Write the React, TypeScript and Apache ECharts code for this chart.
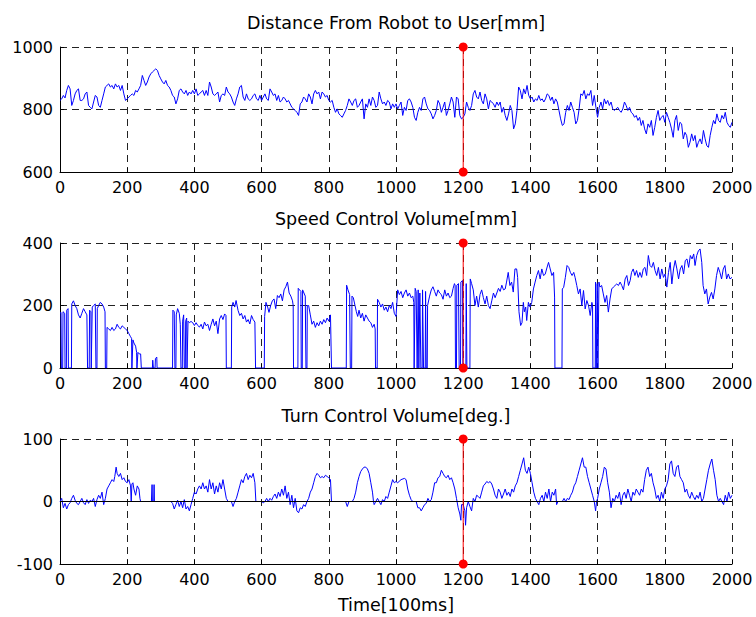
import React, { useEffect, useRef } from "react";
import * as echarts from "echarts";

// ---------- data ----------
const TIME_MIN = 0;
const TIME_MAX = 2000;
const TIME_STEP = 200;
const EVENT_TIME = 1200;

const panelTitles = [
  "Distance From Robot to User[mm]",
  "Speed Control Volume[mm]",
  "Turn Control Volume[deg.]",
];
const xAxisTitle = "Time[100ms]";

const yMins = [600, 0, -100];
const yMaxs = [1000, 400, 100];
const yIntervals = [200, 200, 100];

// distance sampled every 5 time units from 0 to 2000
const DIST_STEP = 5;
const distanceValues = [
  829, 834, 845, 837, 861, 877, 866, 813, 829, 850,
  861, 866, 829, 829, 834, 850, 856, 813, 807, 802,
  824, 845, 840, 813, 807, 829, 850, 872, 877, 882,
  872, 877, 866, 882, 872, 877, 861, 877, 850, 829,
  834, 840, 845, 850, 845, 861, 856, 866, 877, 909,
  893, 877, 888, 904, 914, 920, 925, 930, 925, 909,
  898, 888, 882, 893, 877, 872, 861, 845, 840, 818,
  834, 861, 866, 856, 850, 861, 845, 856, 850, 861,
  850, 866, 845, 850, 856, 861, 845, 861, 845, 888,
  872, 850, 845, 850, 856, 824, 845, 850, 845, 872,
  856, 850, 840, 824, 813, 834, 850, 872, 877, 840,
  829, 850, 834, 829, 834, 845, 850, 834, 829, 845,
  829, 840, 850, 834, 829, 866, 856, 845, 850, 829,
  845, 824, 829, 840, 834, 824, 829, 818, 807, 802,
  797, 791, 781, 818, 824, 840, 834, 824, 850, 840,
  818, 850, 861, 850, 856, 834, 856, 850, 840, 845,
  829, 824, 829, 807, 791, 802, 786, 781, 775, 786,
  797, 813, 834, 824, 813, 829, 834, 807, 813, 824,
  834, 770, 818, 807, 834, 813, 840, 829, 807, 813,
  856, 834, 818, 824, 813, 829, 824, 802, 818, 807,
  818, 802, 813, 824,
  781, 807, 797, 829, 834, 824, 807, 775, 765, 791,
  807, 797, 834, 840, 818, 802, 797, 786, 770, 781,
  797, 829, 818, 791, 807, 824, 781, 797, 818, 840,
  824, 775, 840, 834, 781, 770, 775, 786, 824, 807,
  797, 813, 850, 861, 840, 834, 856, 829, 818, 850,
  834, 802, 829, 824, 818, 807, 824, 813, 824, 791,
  807, 781, 765, 786, 813, 797, 738, 754, 797, 872,
  861, 834, 866, 850, 877, 845, 834, 840, 824, 834,
  829, 845, 829, 834, 824, 834, 850, 845, 829, 840,
  818, 834, 824, 797, 770, 749, 754, 791, 813, 797,
  824, 807, 791, 754, 765, 802, 850, 845, 861, 834,
  850, 845, 861, 813, 845, 807, 775, 807, 824, 802,
  834, 818, 829, 813, 824, 802, 797, 802, 807, 797,
  791, 802, 824, 813, 797, 807, 791, 786, 775, 781,
  765, 775, 749, 765, 738, 722, 754, 743, 765, 717,
  743, 775, 797, 765, 775, 781, 759, 791, 775, 759,
  738, 711, 765, 781, 733, 759, 754, 706, 727, 717,
  679, 695, 722, 700, 717, 679, 695, 706, 690, 733,
  706, 684, 679, 717, 743, 765, 754, 786, 765, 759,
  781, 770, 791, 759, 749, 743, 759,
];

// speed: [time, value]
const speedPoints: [number, number][] = [
  [0, 175], [3, 178], [4, 0], [8, 0], [9, 180], [14, 175], [15, 0], [19, 0], [20, 185], [24, 190],
  [25, 0], [34, 0], [35, 205], [40, 215], [45, 200], [50, 190], [55, 170], [60, 160], [65, 175], [70, 190],
  [75, 180], [80, 170], [82, 0], [87, 0], [88, 185], [92, 180], [93, 0], [95, 0], [96, 195], [100, 200],
  [105, 205], [107, 0], [110, 0], [111, 190], [115, 200], [120, 210], [125, 205], [130, 195], [134, 180], [135, 0],
  [139, 0], [140, 130], [145, 125], [150, 120], [155, 130], [160, 120], [165, 125], [170, 140], [175, 130], [180, 125],
  [185, 135], [190, 130], [195, 125], [200, 120], [205, 110], [210, 100], [213, 95], [214, 0], [216, 0], [217, 90],
  [220, 80], [225, 70], [228, 50], [229, 0], [231, 0], [232, 50], [236, 45], [240, 45], [242, 0], [275, 0],
  [276, 25], [278, 0], [283, 0], [284, 30], [288, 35], [289, 0], [335, 0], [336, 185], [340, 180], [342, 0],
  [345, 0], [346, 170], [350, 190], [355, 175], [358, 140], [360, 0], [364, 0], [365, 150], [368, 170], [370, 0],
  [373, 0], [374, 150], [377, 160], [378, 0], [380, 0], [381, 150], [385, 145], [390, 149], [395, 145], [400, 136],
  [405, 145], [410, 136], [415, 131], [420, 140], [425, 125], [430, 147], [435, 135], [440, 140], [445, 120], [450, 140],
  [455, 157], [460, 135], [465, 150], [470, 110], [475, 157], [480, 168], [485, 155], [490, 173], [494, 168], [495, 0],
  [510, 0], [511, 195], [515, 210], [520, 195], [524, 216], [530, 184], [535, 168], [540, 175], [545, 157], [550, 168],
  [555, 147], [560, 155], [565, 141], [570, 168], [575, 155], [580, 147], [582, 0], [608, 0], [609, 165], [613, 210],
  [618, 195], [622, 178], [627, 200], [632, 215], [637, 221], [642, 190], [647, 232], [652, 225], [657, 237], [662, 215],
  [667, 250], [672, 260], [677, 275], [682, 240], [687, 230], [692, 215], [694, 200], [695, 0], [708, 0], [709, 255],
  [713, 250], [717, 245], [718, 0], [721, 0], [722, 250], [726, 240], [730, 230], [732, 0], [735, 0], [736, 200],
  [740, 200], [745, 170], [750, 140], [755, 150], [760, 130], [765, 145], [770, 135], [775, 150], [780, 140], [785, 155],
  [790, 145], [795, 160], [800, 150], [805, 170], [808, 0], [852, 0], [853, 265], [857, 250], [862, 235], [864, 0],
  [868, 0], [869, 230], [873, 225], [878, 200], [882, 180], [886, 165], [890, 185], [895, 160], [900, 175], [905, 150],
  [910, 170], [915, 160], [920, 150], [925, 145], [930, 130], [935, 140], [938, 125], [939, 0], [944, 0], [945, 220],
  [950, 210], [955, 195], [960, 205], [965, 185], [970, 195], [975, 180], [980, 200], [985, 190], [990, 210], [995, 175],
  [1000, 165], [1005, 250], [1010, 235], [1015, 245], [1020, 225], [1025, 240], [1030, 250], [1035, 230], [1040, 240], [1045, 225],
  [1050, 230], [1053, 210], [1054, 0], [1056, 0], [1057, 255], [1060, 245], [1063, 0], [1065, 0], [1066, 250], [1068, 0],
  [1070, 0], [1071, 240], [1074, 0], [1078, 0], [1079, 250], [1082, 0], [1087, 0], [1088, 245], [1090, 0], [1093, 0],
  [1094, 200], [1100, 230], [1105, 250], [1110, 260], [1115, 245], [1120, 230], [1125, 250], [1130, 240], [1135, 235], [1140, 220],
  [1145, 250], [1150, 230], [1155, 240], [1160, 225], [1165, 230], [1170, 255], [1174, 270], [1176, 265], [1177, 0], [1180, 0],
  [1181, 265], [1186, 270], [1188, 0], [1192, 0], [1193, 275], [1198, 280], [1199, 0], [1208, 0], [1209, 270], [1211, 0],
  [1220, 0], [1221, 285], [1225, 270], [1230, 250], [1235, 200], [1240, 230], [1245, 195], [1250, 235], [1255, 250], [1260, 225],
  [1265, 205], [1270, 230], [1275, 200], [1280, 190], [1285, 215], [1290, 240], [1295, 225], [1300, 240], [1305, 255], [1310, 245],
  [1315, 265], [1320, 250], [1325, 253], [1329, 275], [1334, 306], [1339, 264], [1344, 275], [1349, 243], [1354, 317], [1359, 317],
  [1362, 290], [1366, 180], [1371, 136], [1375, 145], [1379, 210], [1382, 180], [1386, 195], [1389, 152], [1394, 210], [1399, 195],
  [1404, 210], [1409, 253], [1414, 275], [1419, 296], [1424, 312], [1429, 285], [1434, 317], [1439, 296], [1444, 300], [1449, 320],
  [1454, 338], [1459, 317], [1464, 296], [1469, 306], [1472, 227], [1473, 0], [1494, 0], [1495, 253], [1499, 258], [1504, 290],
  [1509, 328], [1514, 322], [1519, 306], [1524, 296], [1529, 306], [1533, 290], [1538, 264], [1543, 237], [1548, 253], [1553, 200],
  [1558, 248], [1563, 189], [1568, 216], [1573, 200], [1578, 168], [1583, 210], [1585, 200], [1586, 0], [1593, 0], [1594, 275],
  [1596, 0], [1598, 0], [1599, 270], [1601, 0], [1603, 0], [1604, 275], [1607, 259], [1612, 264], [1617, 237], [1622, 210],
  [1627, 232], [1632, 179], [1637, 221], [1642, 253], [1647, 259], [1652, 264], [1657, 269], [1662, 264], [1667, 275], [1672, 264],
  [1677, 250], [1682, 285], [1687, 296], [1692, 264], [1697, 280], [1701, 306], [1706, 317], [1711, 296], [1716, 312], [1721, 290],
  [1726, 306], [1731, 290], [1736, 317], [1741, 322], [1746, 296], [1751, 360], [1756, 328], [1761, 322], [1766, 338], [1771, 312],
  [1776, 296], [1781, 322], [1786, 285], [1791, 317], [1796, 290], [1801, 301], [1806, 259], [1811, 306], [1816, 338], [1821, 269],
  [1826, 317], [1831, 344], [1836, 317], [1841, 285], [1846, 317], [1851, 328], [1856, 301], [1861, 344], [1866, 349], [1871, 322],
  [1876, 360], [1881, 349], [1886, 365], [1890, 328], [1895, 360], [1900, 375], [1905, 381], [1910, 338], [1914, 264], [1919, 237],
  [1924, 253], [1929, 205], [1934, 227], [1939, 242], [1944, 221], [1949, 253], [1954, 296], [1959, 322], [1964, 306], [1969, 285],
  [1974, 317], [1979, 328], [1984, 285], [1989, 301], [1994, 285], [2000, 290],
];

// turn: [time, value]
const turnPoints: [number, number][] = [
  [0, 0], [5, 5], [10, -10], [15, -3], [20, -12], [25, -5], [30, -2], [35, 5], [40, 10], [45, 2],
  [50, -3], [55, -5], [60, 0], [65, 5], [70, -2], [75, -5], [80, 3], [85, -3], [90, 2], [95, 0],
  [100, 5], [105, -8], [110, 3], [115, 10], [120, 5], [125, 15], [130, -5], [135, 5], [140, 20], [145, 25],
  [150, 30], [155, 35], [160, 32], [163, 40], [167, 55], [170, 45], [175, 40], [180, 45], [185, 35], [190, 38],
  [195, 32], [200, 30], [205, 35], [210, 25], [212, 0], [214, 28], [217, 30], [220, 20], [225, 10], [230, 25],
  [235, 20], [238, 5], [240, 0], [272, 0], [274, 27], [275, 0], [279, 0], [280, 27], [281, 0], [330, 0],
  [335, -3], [340, -12], [345, -5], [350, 2], [355, -8], [360, 0], [365, -10], [370, 3], [375, -12], [380, -8],
  [385, -15], [390, -5], [395, 5], [400, 15], [405, 12], [410, 20], [415, 25], [420, 20], [425, 30], [430, 20],
  [435, 25], [440, 15], [445, 35], [450, 20], [455, 30], [460, 12], [465, 25], [470, 15], [475, 30], [480, 20],
  [485, 35], [490, 20], [495, 5], [500, 0], [510, 0], [515, -8], [520, 0], [525, 5], [530, 15], [535, 25],
  [540, 35], [545, 30], [550, 40], [555, 45], [560, 35], [565, 42], [570, 38], [575, 45], [580, 30], [583, 0],
  [600, 0], [605, -2], [610, 0], [615, 5], [620, 0], [625, 5], [630, 2], [635, 8], [640, 12], [645, 5],
  [650, 15], [655, 8], [660, 20], [665, 10], [670, 25], [675, 5], [680, 15], [685, -5], [690, 10], [695, -10],
  [700, 5], [705, -15], [710, -18], [715, -10], [720, -12], [725, -5], [730, -8], [735, 0], [740, 5], [745, 15],
  [750, 20], [755, 30], [760, 40], [765, 45], [770, 42], [775, 38], [780, 40], [785, 38], [790, 42], [795, 40],
  [800, 38], [805, 35], [808, 0], [850, 0], [855, -8], [860, 0], [870, 0], [875, 5], [880, 15], [885, 30],
  [890, 40], [895, 48], [900, 52], [905, 55], [910, 55], [915, 52], [920, 45], [925, 30], [930, 15], [933, 0],
  [935, -5], [940, 0], [945, 5], [950, 0], [955, -5], [960, 3], [965, 0], [970, 8], [975, 5], [980, 15],
  [985, 25], [990, 35], [995, 30], [1000, 32], [1005, 30], [1015, 35], [1025, 37], [1030, 35], [1035, 20], [1040, 10],
  [1045, 3], [1050, 0], [1060, 0], [1065, -10], [1070, -10], [1075, -15], [1080, -10], [1085, -5], [1090, -3], [1095, 5],
  [1100, 0], [1105, 3], [1110, 15], [1115, 30], [1120, 30], [1125, 38], [1130, 40], [1135, 50], [1140, 45], [1145, 40],
  [1150, 38], [1155, 42], [1160, 35], [1165, 38], [1170, 30], [1175, 20], [1180, 5], [1185, -10], [1190, -20], [1193, -30],
  [1195, -5], [1200, -5], [1205, -15], [1207, -38], [1210, -10], [1215, 0], [1220, -8], [1225, -15], [1230, 5], [1235, 0],
  [1240, 10], [1245, 8], [1250, 5], [1255, 15], [1260, 25], [1265, 28], [1270, 32], [1275, 30], [1280, 32], [1285, 28],
  [1290, 20], [1295, 10], [1300, 5], [1305, 20], [1310, 15], [1315, 5], [1320, 12], [1325, 20], [1330, 10], [1335, 15],
  [1340, 8], [1345, 20], [1350, 15], [1355, 25], [1360, 30], [1365, 40], [1370, 50], [1375, 60], [1380, 70], [1385, 50],
  [1390, 45], [1395, 55], [1400, 45], [1405, 30], [1410, 15], [1415, 5], [1420, 0], [1425, -5], [1430, 5], [1435, 10],
  [1440, 0], [1445, 15], [1450, 5], [1455, 20], [1460, 0], [1465, 15], [1470, 10], [1475, 20], [1478, -5], [1482, 0],
  [1495, 0], [1500, 5], [1505, 0], [1510, 5], [1515, 3], [1520, 10], [1525, 15], [1530, 25], [1535, 30], [1540, 40],
  [1545, 50], [1550, 60], [1555, 70], [1560, 55], [1565, 55], [1570, 40], [1575, 30], [1580, 20], [1585, 10], [1590, 0],
  [1594, -15], [1597, 0], [1600, 5], [1605, 20], [1610, 30], [1615, 40], [1620, 55], [1625, 52], [1630, 30], [1635, 15],
  [1640, -10], [1645, 5], [1650, 0], [1655, 10], [1660, 5], [1665, 15], [1670, -5], [1675, 10], [1680, 15], [1685, 5],
  [1690, 20], [1695, 10], [1700, 0], [1705, 15], [1710, 10], [1715, 20], [1720, 15], [1725, 10], [1730, 20], [1735, 15],
  [1740, 35], [1745, 50], [1750, 55], [1755, 40], [1760, 45], [1765, 30], [1770, 20], [1775, 5], [1780, 10], [1785, 0],
  [1790, 15], [1795, 5], [1800, 20], [1805, 25], [1810, 35], [1815, 60], [1820, 65], [1825, 45], [1830, 40], [1835, 55],
  [1840, 58], [1845, 40], [1850, 35], [1855, 30], [1860, 15], [1865, 20], [1870, 10], [1875, 5], [1880, 15], [1885, 8],
  [1890, 3], [1895, 10], [1900, 5], [1905, 15], [1910, 0], [1915, 5], [1920, 20], [1925, 35], [1930, 50], [1935, 60],
  [1940, 68], [1945, 50], [1950, 35], [1955, 10], [1960, 0], [1965, 5], [1970, 0], [1975, -5], [1980, 10], [1985, 0],
  [1990, 15], [1995, 5], [2000, 10],
];

// ---------- chart ----------
const FONT = "DejaVu Sans";
const plainNumber = (v: number) => String(v);

export default function App() {
  const ref = useRef<HTMLDivElement>(null);

  useEffect(() => {
    if (!ref.current) return;
    const chart = echarts.init(ref.current, null, { renderer: "svg" });

    const gridTops = [47, 243, 439];
    const gridHeight = 125;
    const titleTops = [14, 210, 407];

    const distanceData = distanceValues.map((v, i) => [i * DIST_STEP, v]);
    const seriesData = [distanceData, speedPoints, turnPoints];

    const grids = gridTops.map((t) => ({
      left: 60,
      width: 672,
      top: t,
      height: gridHeight,
      containLabel: false,
    }));

    const dashed = { color: "#222", width: 1, type: [7, 5] as number[] };

    const xAxes = gridTops.map((_, i) => ({
      type: "value" as const,
      gridIndex: i,
      min: TIME_MIN,
      max: TIME_MAX,
      interval: TIME_STEP,
      axisLine: { show: true, onZero: false, lineStyle: { color: "#000", width: 1 } },
      axisTick: { show: true, inside: true, length: 4, lineStyle: { color: "#000" } },
      axisLabel: { color: "#000", fontFamily: FONT, fontSize: 16, margin: 7, formatter: plainNumber },
      splitLine: { show: true, lineStyle: dashed },
      ...(i === 2
        ? {
            name: xAxisTitle,
            nameLocation: "middle" as const,
            nameGap: 32,
            nameTextStyle: { color: "#000", fontFamily: FONT, fontSize: 17.5 },
          }
        : {}),
    }));

    const yAxes = gridTops.map((_, i) => ({
      type: "value" as const,
      gridIndex: i,
      min: yMins[i],
      max: yMaxs[i],
      interval: yIntervals[i],
      axisLine: { show: true, onZero: false, lineStyle: { color: "#000", width: 1 } },
      axisTick: { show: true, inside: true, length: 4, lineStyle: { color: "#000" } },
      axisLabel: { color: "#000", fontFamily: FONT, fontSize: 16, margin: 7, formatter: plainNumber },
      splitLine: { show: true, lineStyle: dashed },
    }));

    const blueSeries = seriesData.map((d, i) => ({
      type: "line" as const,
      xAxisIndex: i,
      yAxisIndex: i,
      data: d,
      showSymbol: false,
      symbol: "none",
      lineStyle: { color: "#0000ff", width: 1 },
      itemStyle: { color: "#0000ff" },
      z: 3,
      ...(i === 2
        ? {
            markLine: {
              silent: true,
              symbol: "none",
              label: { show: false },
              lineStyle: { color: "#000", type: "solid" as const, width: 1 },
              data: [{ yAxis: 0 }],
            },
          }
        : {}),
    }));

    const redSeries = gridTops.map((_, i) => ({
      type: "line" as const,
      xAxisIndex: i,
      yAxisIndex: i,
      data: [
        [EVENT_TIME, yMins[i]],
        [EVENT_TIME, yMaxs[i]],
      ],
      symbol: "circle",
      symbolSize: 9,
      showSymbol: true,
      clip: false,
      lineStyle: { color: "#ff0000", width: 1 },
      itemStyle: { color: "#ff0000" },
      z: 6,
    }));

    chart.setOption({
      animation: false,
      backgroundColor: "#fff",
      title: panelTitles.map((t, i) => ({
        text: t,
        left: 396,
        top: titleTops[i],
        textAlign: "center",
        padding: 0,
        textStyle: { color: "#000", fontFamily: FONT, fontSize: 17.5, fontWeight: "normal" },
      })),
      grid: grids,
      xAxis: xAxes,
      yAxis: yAxes,
      series: [...blueSeries, ...redSeries],
    });

    return () => chart.dispose();
  }, []);

  return (
    <div
      ref={ref}
      style={{ position: "fixed", left: 0, top: 0, width: 756, height: 617, background: "#fff" }}
    />
  );
}
